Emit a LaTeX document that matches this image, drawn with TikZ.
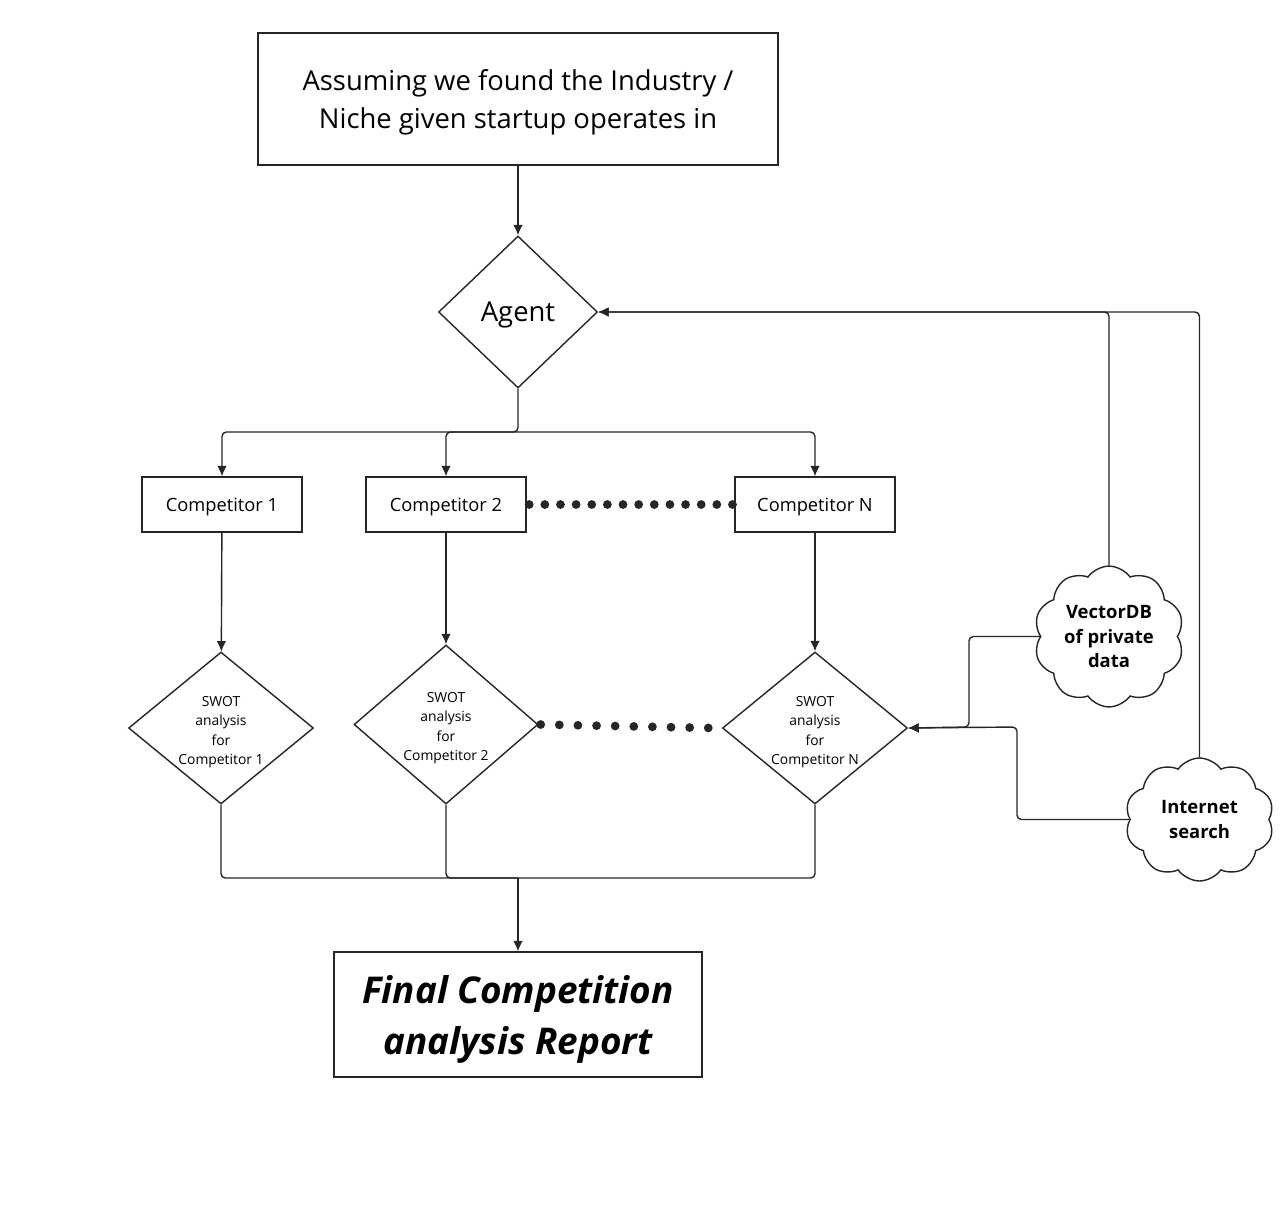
\documentclass[tikz,border=0pt]{standalone}
\usepackage{fontspec}
\setmainfont{Open Sans}
\usetikzlibrary{arrows.meta,%
                shapes.geometric,shapes.symbols,positioning}

% text set a little lower than the shape's centre
\newcommand{\lowered}[2]{\raisebox{-#1}[\height][\depth]{\begin{tabular}{@{}c@{}}#2\end{tabular}}}

\tikzset{
  link/.style={draw=black!85, line width=0.8pt, rounded corners=2.5pt},
  arr/.style={link, -{Latex[length=6pt,width=5.5pt]}},
  box/.style={draw=black!85, line width=0.8pt, align=center, inner sep=2pt},
  choice/.style={diamond, draw=black!85, line width=0.8pt, align=center, inner sep=0pt},
  source/.style={cloud, cloud puffs=10, cloud puff arc=110, draw=black!85,
                 line width=0.8pt, align=center, font=\bfseries\fontsize{10.5}{13.7}\selectfont, inner sep=0pt},
  dotrow/.style={draw=black!85, line width=5pt, line cap=round, dash pattern=on 0pt off #1},
}

\begin{document}
\begin{tikzpicture}[x=0.02cm, y=-0.02cm]
\useasboundingbox (0,0) rectangle (1282,1218);

% top of the flow
\node[box, minimum width=10.4cm, minimum height=2.64cm,
      font=\fontsize{15.6}{21.8}\selectfont] (niche) at (518,99)
  {\lowered{1.8pt}{Assuming we found the Industry /\\Niche given startup operates in}};
\node[choice, minimum width=3.18cm, minimum height=3.04cm,
      font=\fontsize{15.6}{18}\selectfont] (agent) at (518,312) {\lowered{1.8pt}{Agent}};

% competitors
\node[box, minimum width=3.2cm, minimum height=1.1cm, font=\fontsize{10.4}{12}\selectfont] (comp1) at (222,504.5) {\lowered{1.6pt}{Competitor 1}};
\node[box, minimum width=3.2cm, minimum height=1.1cm, font=\fontsize{10.4}{12}\selectfont] (comp2) at (446,504.5) {\lowered{1.6pt}{Competitor 2}};
\node[box, minimum width=3.2cm, minimum height=1.1cm, font=\fontsize{10.4}{12}\selectfont] (compN) at (815,504.5) {\lowered{1.6pt}{Competitor N}};

% swot diamonds
\node[choice, aspect=1.22, minimum width=3.7cm, minimum height=3.04cm, font=\fontsize{7.9}{11}\selectfont] (swot1) at (221,728)
  {\lowered{2pt}{SWOT\\analysis\\for\\Competitor 1}};
\node[choice, aspect=1.16, minimum width=3.68cm, minimum height=3.18cm, font=\fontsize{7.9}{11}\selectfont] (swot2) at (446,724.5)
  {\lowered{1.7pt}{SWOT\\analysis\\for\\Competitor 2}};
\node[choice, aspect=1.22, minimum width=3.7cm, minimum height=3.04cm, font=\fontsize{7.9}{11}\selectfont] (swotN) at (815,728)
  {\lowered{2pt}{SWOT\\analysis\\for\\Competitor N}};

% report
\node[box, minimum width=7.36cm, minimum height=2.5cm,
      font=\bfseries\itshape\fontsize{21}{29}\selectfont] (report) at (518,1014.5)
  {\lowered{2.7pt}{Final Competition\\analysis Report}};

% data sources
\node[source, minimum width=3.0cm, minimum height=2.46cm] (vdb) at (1109,636.5) {VectorDB\\of private\\data};
\node[source, minimum width=2.98cm, minimum height=2.46cm] (web) at (1199.5,819.5) {Internet\\search};

\coordinate (split) at (518,432);
\coordinate (merge) at (518,878);
\coordinate (vbend) at (969,727);
\coordinate (wbend) at (1017,727);

\draw[arr] (niche) -- (agent);
\draw[arr] (agent.south) -- (split) -| (comp1.north);
\draw[arr] (split) -| (comp2.north);
\draw[arr] (split) -| (compN.north);

\draw[arr] (comp1) -- (swot1);
\draw[arr] (comp2) -- (swot2);
\draw[arr] (compN) -- (swotN);

\draw[link] (swot1.south) |- (merge);
\draw[link] (swot2.south) |- (merge);
\draw[link] (swotN.south) |- (merge);
\draw[arr] (merge) -- (report);

\draw[arr] (vdb.north) |- (agent.east);
\draw[arr] (web.north) |- (agent.east);
\draw[arr] (vdb.west) -| (vbend) -- (swotN.east);
\draw[arr] (web.west) -| (wbend) -- (swotN.east);

% dots between the columns
\draw[dotrow=8.9pt] (comp2.east) ++(2.5,0) -- (compN.west);
\draw[dotrow=10.6pt] (swot2.east) ++(2,0) -- ([xshift=-0.2cm]swotN.west);
\end{tikzpicture}
\end{document}
